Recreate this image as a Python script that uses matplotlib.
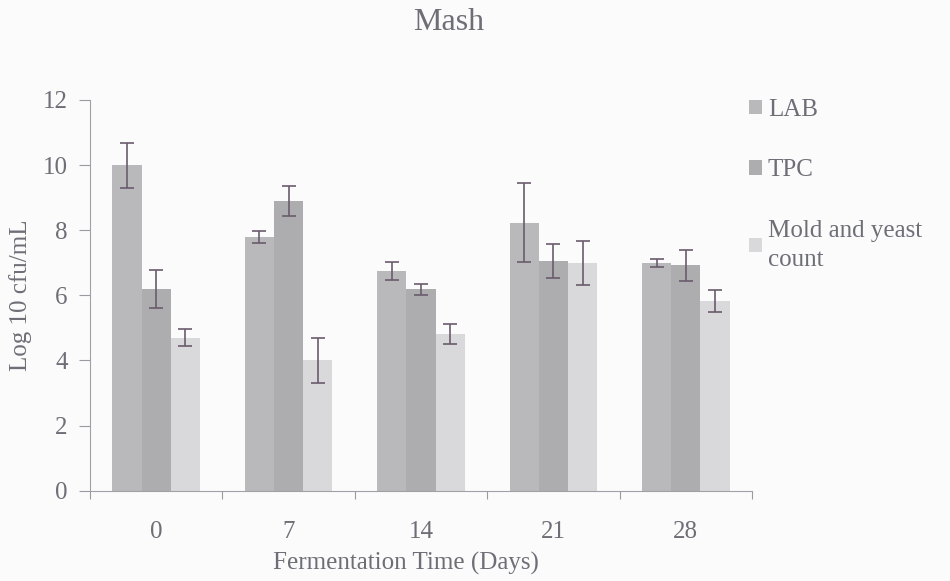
import numpy as np
import matplotlib.pyplot as plt
from matplotlib.patches import Patch

# datos (Log 10 cfu/mL)
dias = ["0", "7", "14", "21", "28"]
lab = [10.0, 7.8, 6.75, 8.23, 7.0]
lab_err = [0.69, 0.19, 0.27, 1.22, 0.13]
tpc = [6.2, 8.9, 6.18, 7.05, 6.92]
tpc_err = [0.58, 0.46, 0.18, 0.53, 0.48]
moho = [4.7, 4.0, 4.82, 6.99, 5.83]
moho_err = [0.26, 0.68, 0.3, 0.68, 0.34]
series = ["LAB", "TPC", "Mold and yeast\ncount"]

plt.rcParams['font.family'] = ['Liberation Serif', 'DejaVu Serif']
gris_txt = "#6e6e76"
fondo = "#fbfbfc"

fig = plt.figure(figsize=(9.5, 5.81), dpi=100, facecolor=fondo)
ax = fig.add_axes([0.0947, 0.1554, 0.6969, 0.6725], facecolor=fondo)

x = np.arange(len(dias))
w = 0.22
colores = ["#b9b9bb", "#adadaf", "#d9d9db"]
datos = [(lab, lab_err), (tpc, tpc_err), (moho, moho_err)]
for i, (v, e) in enumerate(datos):
    ax.bar(x + (i - 1) * w, v, w, color=colores[i], edgecolor="none",
           yerr=e, ecolor="#6a5c6c", capsize=5, error_kw=dict(elinewidth=1.2, capthick=1.2))

ax.set_xlim(-0.5, 4.5)
ax.set_ylim(0, 12)
ax.set_yticks(np.arange(0, 13, 2))
ax.set_xticks(np.arange(-0.5, 5, 1))
ax.set_xticklabels([])
ax.set_xticks(x, minor=True)
ax.set_xticklabels(dias, minor=True)
ax.tick_params(axis="x", which="minor", length=0, pad=22, labelsize=18, labelcolor=gris_txt)
ax.tick_params(axis="x", which="major", length=6, color="#9a9aa0", direction="out")
ax.tick_params(axis="y", length=8, color="#9a9aa0", labelsize=18, labelcolor=gris_txt, pad=8)

for s in ["top", "right"]:
    ax.spines[s].set_visible(False)
for s in ["left", "bottom"]:
    ax.spines[s].set_color("#a0a0a6")
    ax.spines[s].set_linewidth(0.8)

ax.set_xlabel("Fermentation Time (Days)", fontsize=18, color=gris_txt)
ax.xaxis.set_label_coords(0.477, -0.185)
ax.xaxis.label.set_va("center")
ax.set_ylabel("Log 10 cfu/mL", fontsize=18, color=gris_txt, labelpad=8)
fig.text(0.472, 0.962, "Mash", ha="center", va="center", fontsize=23, color=gris_txt)

handles = [Patch(facecolor=c, edgecolor="none") for c in colores]
leg = fig.legend(handles, series, loc="upper left", bbox_to_anchor=(0.765, 0.869),
                 frameon=False, fontsize=18, handlelength=0.5, handleheight=0.5,
                 handletextpad=0.25, labelspacing=1.55)
for t in leg.get_texts():
    t.set_color(gris_txt)
    t.set_linespacing(1.4)

fig.savefig("out.png", dpi=100, facecolor=fondo)
